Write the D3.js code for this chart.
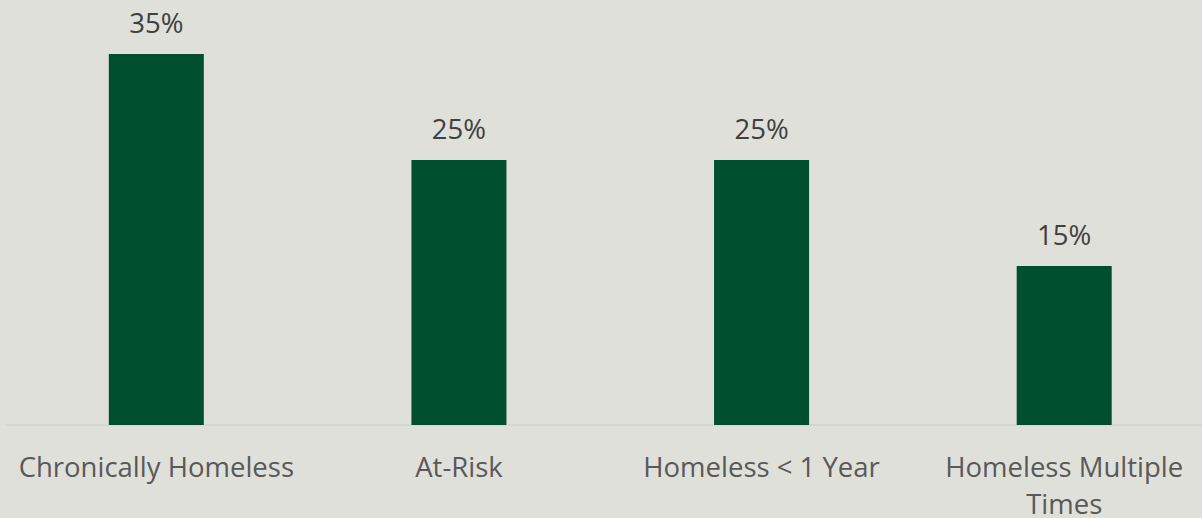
<!DOCTYPE html>
<html><head><meta charset="utf-8">
<script src="https://cdn.jsdelivr.net/npm/d3@7"></script>
<style>
html,body{margin:0;padding:0;background:#e0e0db;}
svg{display:block;}
text{font-family:"Open Sans",sans-serif;}
</style></head>
<body>
<svg id="c" width="1202" height="518"></svg>
<script>
const categories = ["Chronically Homeless", "At-Risk", "Homeless < 1 Year", "Homeless Multiple Times"];
const values = [0.35, 0.25, 0.25, 0.15];
const valueLabels = ["35%", "25%", "25%", "15%"];

const W = 1202, H = 518;
const svg = d3.select("#c");
svg.append("rect").attr("width", W).attr("height", H).attr("fill", "#e0e0db");

const x = d3.scaleBand().domain(categories).range([5, 1215.5]).paddingInner(0.686).paddingOuter(0.343);
const y = d3.scaleLinear().domain([0, 0.4]).range([425, 1]);

svg.append("line").attr("x1", 5).attr("x2", W).attr("y1", y(0)).attr("y2", y(0))
  .attr("stroke", "#d4d4cf").attr("stroke-width", 1.5);

svg.selectAll("rect.bar").data(categories).join("rect").attr("class", "bar")
  .attr("x", d => x(d)).attr("width", x.bandwidth())
  .attr("y", (d, i) => y(values[i])).attr("height", (d, i) => y(0) - y(values[i]))
  .attr("fill", "#005030");

svg.selectAll("text.val").data(categories).join("text").attr("class", "val")
  .attr("x", d => x(d) + x.bandwidth() / 2).attr("y", (d, i) => y(values[i]) - 21)
  .attr("text-anchor", "middle").attr("font-size", 27.5).attr("fill", "#404040")
  .text((d, i) => valueLabels[i]);

const xAxis = d3.axisBottom(x).tickSize(0).tickPadding(0);
const ax = svg.append("g").attr("transform", `translate(0,${y(0)})`).call(xAxis);
ax.select(".domain").remove();
ax.selectAll(".tick text").attr("font-size", 27.5).attr("fill", "#595959")
  .attr("font-family", "'Open Sans',sans-serif")
  .attr("dy", null).attr("y", 52)
  .each(function(d) {
    const t = d3.select(this);
    const words = d.split(" ");
    t.text(null);
    let line = [];
    let tspan = t.append("tspan").attr("x", 0).attr("dy", 0);
    for (const w of words) {
      line.push(w);
      tspan.text(line.join(" "));
      if (tspan.node().getComputedTextLength() > 290 && line.length > 1) {
        line.pop();
        tspan.text(line.join(" "));
        line = [w];
        tspan = t.append("tspan").attr("x", 0).attr("dy", 37).text(w);
      }
    }
  });
</script>
</body></html>
